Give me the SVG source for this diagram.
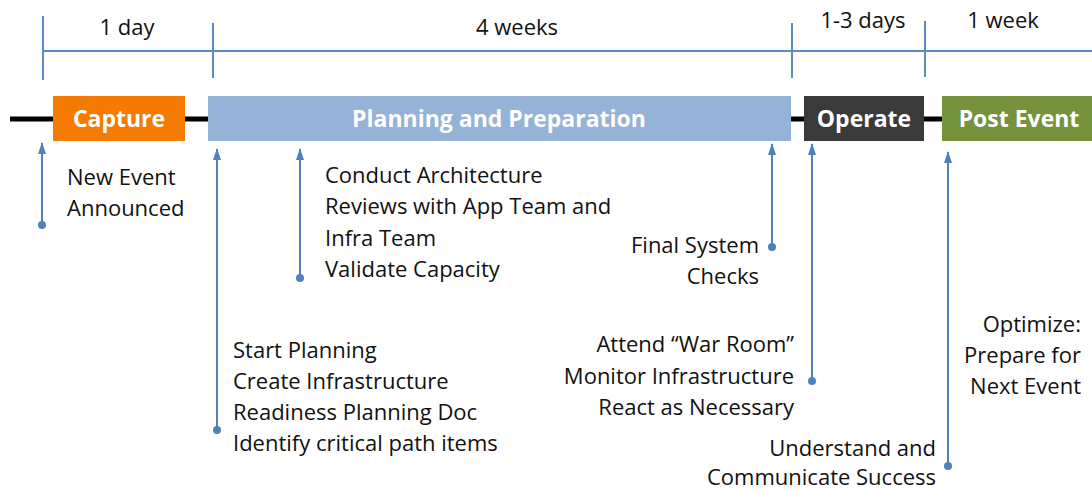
<svg xmlns="http://www.w3.org/2000/svg" width="1092" height="491" viewBox="0 0 1092 491">
<defs>
<marker id="ah" viewBox="0 0 12 10" refX="11" refY="5" markerWidth="12" markerHeight="10" markerUnits="userSpaceOnUse" orient="auto">
<path d="M0,1 L12,5 L0,9 Z" fill="#4F81BD"/>
</marker>
<style>
.t{font-family:"Open Sans","Liberation Sans",Arial,sans-serif;font-size:22px;fill:#111}
.b{font-family:"Open Sans","Liberation Sans",Arial,sans-serif;font-size:23px;font-weight:bold;fill:#fff}
.s{stroke:#5B8BC5;stroke-width:2;fill:none}
.c{stroke:#4F81BD;stroke-width:2;fill:none}
.d{fill:#4F81BD}
</style>
</defs>
<rect width="1092" height="491" fill="#fff"/>
<g id="scale">
<line class="s" x1="43" y1="51" x2="1092" y2="51"/>
<line class="s" x1="43" y1="16" x2="43" y2="80"/>
<line class="s" x1="213" y1="23" x2="213" y2="78"/>
<line class="s" x1="792" y1="23" x2="792" y2="78"/>
<line class="s" x1="925" y1="21" x2="925" y2="77"/>
<text class="t" x="127" y="35" text-anchor="middle">1 day</text>
<text class="t" x="517" y="35" text-anchor="middle">4 weeks</text>
<text class="t" x="863" y="28" text-anchor="middle">1-3 days</text>
<text class="t" x="1003" y="28" text-anchor="middle">1 week</text>
</g>
<line x1="10" y1="119" x2="1092" y2="119" stroke="#000" stroke-width="5"/>
<g id="capture">
<rect x="53" y="96" width="132" height="45" fill="#F47A00"/>
<text class="b" x="119" y="127" text-anchor="middle">Capture</text>
</g>
<g id="planning">
<rect x="208" y="96" width="583" height="45" fill="#95B3D7"/>
<text class="b" x="499" y="127" text-anchor="middle">Planning and Preparation</text>
</g>
<g id="operate">
<rect x="804" y="96" width="120" height="45" fill="#3A3A3A"/>
<text class="b" x="864" y="127" text-anchor="middle">Operate</text>
</g>
<g id="postevent">
<rect x="942" y="96" width="152" height="45" fill="#76923C"/>
<text class="b" x="1019" y="127" text-anchor="middle">Post Event</text>
</g>
<g id="connectors">
<line class="c" x1="42" y1="225" x2="42" y2="143" marker-end="url(#ah)"/>
<circle class="d" cx="42" cy="225" r="4"/>
<line class="c" x1="217" y1="430" x2="217" y2="149" marker-end="url(#ah)"/>
<circle class="d" cx="217" cy="430" r="4"/>
<line class="c" x1="300" y1="278" x2="300" y2="149" marker-end="url(#ah)"/>
<circle class="d" cx="300" cy="278" r="4"/>
<line class="c" x1="772" y1="247" x2="772" y2="144" marker-end="url(#ah)"/>
<circle class="d" cx="772" cy="247" r="4"/>
<line class="c" x1="812" y1="381" x2="812" y2="144" marker-end="url(#ah)"/>
<circle class="d" cx="812" cy="381" r="4"/>
<line class="c" x1="948" y1="466" x2="948" y2="152" marker-end="url(#ah)"/>
<circle class="d" cx="948" cy="466" r="4"/>
</g>
<g id="label-new">
<text class="t" x="67" y="185">New Event</text>
<text class="t" x="67" y="216">Announced</text>
</g>
<g id="label-review">
<text class="t" x="325" y="183">Conduct Architecture</text>
<text class="t" x="325" y="214">Reviews with App Team and</text>
<text class="t" x="325" y="246">Infra Team</text>
<text class="t" x="325" y="277">Validate Capacity</text>
</g>
<g id="label-start">
<text class="t" x="233" y="358">Start Planning</text>
<text class="t" x="233" y="389">Create Infrastructure</text>
<text class="t" x="233" y="420">Readiness Planning Doc</text>
<text class="t" x="233" y="451">Identify critical path items</text>
</g>
<g id="label-final">
<text class="t" x="759" y="253" text-anchor="end">Final System</text>
<text class="t" x="759" y="284" text-anchor="end">Checks</text>
</g>
<g id="label-war">
<text class="t" x="794" y="352" text-anchor="end">Attend “War Room”</text>
<text class="t" x="794" y="384" text-anchor="end">Monitor Infrastructure</text>
<text class="t" x="794" y="415" text-anchor="end">React as Necessary</text>
</g>
<g id="label-success">
<text class="t" x="936" y="456" text-anchor="end">Understand and</text>
<text class="t" x="936" y="485" text-anchor="end">Communicate Success</text>
</g>
<g id="label-optimize">
<text class="t" x="1081" y="332" text-anchor="end">Optimize:</text>
<text class="t" x="1081" y="363" text-anchor="end">Prepare for</text>
<text class="t" x="1081" y="394" text-anchor="end">Next Event</text>
</g>
</svg>
